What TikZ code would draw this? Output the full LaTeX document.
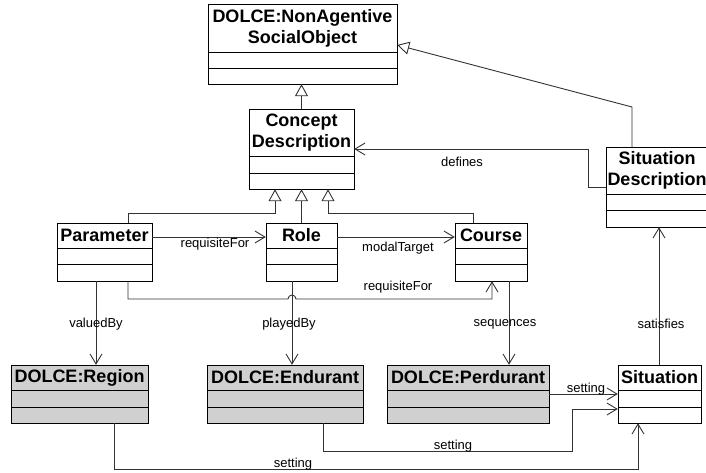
\documentclass[tikz,border=0pt]{standalone}
\usepackage{fontspec}
\setmainfont{Liberation Sans}
\usetikzlibrary{arrows.meta,fit}

\tikzset{
  boxline/.style={draw=black, line width=0.9pt},
  classtitle/.style={font=\fontsize{18}{21}\selectfont\bfseries, align=center, inner sep=0pt},
  lbl/.style={font=\fontsize{13}{15}\selectfont, inner sep=0pt},
  conn/.style={draw=black!80, line width=0.9pt},
  gen/.style={conn, -{Triangle[open, length=12pt, width=13pt]}},
  assoc/.style={conn, -{Straight Barb[length=10pt, width=12pt]}},
}

% UML class: name, x1, y1, x2, y2, first divider, second divider, fill, title
\newcommand{\umlclass}[9]{%
  \draw[boxline, fill=#8] (#2,#3) rectangle (#4,#5);
  \draw[boxline] (#2,#6) -- (#4,#6) (#2,#7) -- (#4,#7);
  \node[fit={(#2,#3) (#4,#5)}, inner sep=0pt] (#1) {};
  \node[classtitle] (#1-t) at ({(#2+#4)/2},{(#3+#6)/2}) {#9};
}

\definecolor{dolcegray}{HTML}{D0D0D0}

\begin{document}
\begin{tikzpicture}[x=1pt, y=-1pt]
\useasboundingbox (0,0) rectangle (706,473);
\clip (0,0) rectangle (706,473);
\fill[white] (0,0) rectangle (706,473);

% classes
\umlclass{nas}{208}{4}{397}{84}{52}{68}{white}{DOLCE:NonAgentive\\SocialObject}
\umlclass{concept}{249}{109}{354}{189}{156}{173}{white}{Concept\\Description}
\umlclass{param}{57}{223}{152}{281}{248}{264}{white}{Parameter}
\umlclass{role}{266}{223}{337}{281}{248}{264}{white}{Role}
\umlclass{course}{455}{223}{527}{281}{248}{264}{white}{Course}
\umlclass{sd}{606}{147}{708}{227}{194}{210}{white}{Situation\\Description}
\umlclass{region}{11}{365}{148}{423}{390}{407}{dolcegray}{DOLCE:Region}
\umlclass{endurant}{207}{365}{363}{423}{390}{407}{dolcegray}{DOLCE:Endurant}
\umlclass{perdurant}{387}{365}{549}{423}{390}{407}{dolcegray}{DOLCE:Perdurant}
\umlclass{situation}{618}{365}{701}{423}{390}{407}{white}{Situation}

% generalizations
\draw[gen] (concept.north) -- (concept.north |- nas.south);
\draw[gen] (128,0 |- param.north) |- (275,213) -- (275,0 |- concept.south);
\draw[gen] (role.north) -- (role.north |- concept.south);
\draw[gen] (473,0 |- course.north) |- (328,213) -- (328,0 |- concept.south);
\draw[gen] (632,0 |- sd.north) -- (632,107) -- (nas.east |- 0,45);

% defines
\draw[assoc] (sd.west |- 0,187) -- (588,187) |- (concept.east |- 0,149);
\node[lbl] (l-defines) at (462,162) {defines};

% requisiteFor / modalTarget
\draw[assoc] (param.east |- 0,237) -- (role.west |- 0,237);
\node[lbl] (l-req1) at (215,244) {requisiteFor};
\draw[assoc] (role.east |- 0,237) -- (course.west |- 0,237);
\node[lbl] (l-modal) at (398,248) {modalTarget};
\draw[assoc] (128,0 |- param.south) |- (288,299)
  arc[start angle=180, end angle=0, radius=4pt] -- (492,299) -- (492,0 |- course.south);
\node[lbl] (l-req2) at (398,287) {requisiteFor};

% valuedBy / playedBy / sequences / satisfies
\draw[assoc] (96,0 |- param.south) -- (96,0 |- region.north);
\node[lbl] (l-valued) at (96,324) {valuedBy};
\draw[assoc] (292,0 |- role.south) -- (292,0 |- endurant.north);
\node[lbl] (l-played) at (289,324) {playedBy};
\draw[assoc] (509,0 |- course.south) -- (509,0 |- perdurant.north);
\node[lbl] (l-seq) at (505,324) {sequences};
\draw[assoc] (659,0 |- situation.north) -- (659,0 |- sd.south);
\node[lbl] (l-sat) at (661,324) {satisfies};

% setting
\draw[assoc] (perdurant.east |- 0,394) -- (situation.west |- 0,394);
\node[lbl] (l-set1) at (586,389) {setting};
\draw[assoc] (323,0 |- endurant.south) |- (572,451) |- (situation.west |- 0,409);
\node[lbl] (l-set2) at (453,446) {setting};
\draw[assoc] (114,0 |- region.south) |- (638,469) -- (638,0 |- situation.south);
\node[lbl] (l-set3) at (293,464) {setting};
\end{tikzpicture}
\end{document}
